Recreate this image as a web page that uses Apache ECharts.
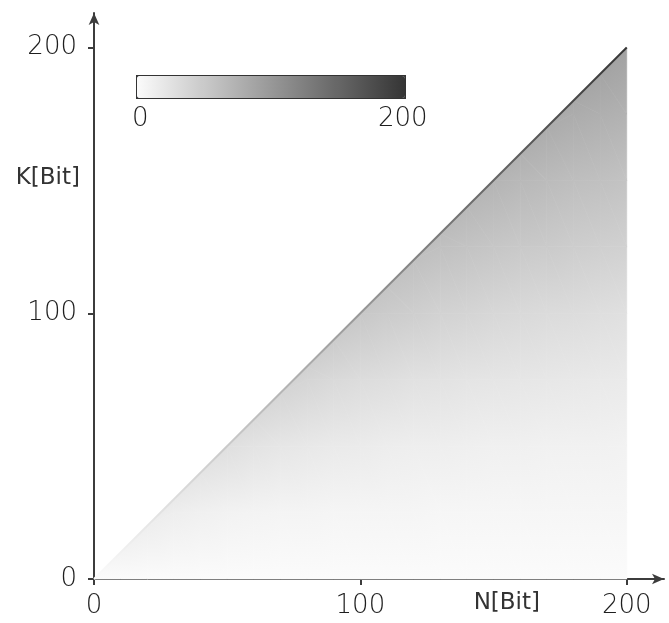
<!DOCTYPE html>
<html>
<head>
<meta charset="utf-8">
<script src="https://cdn.jsdelivr.net/npm/echarts@6/dist/echarts.min.js"></script>
<style>html,body{margin:0;padding:0;background:#fff}#c{width:669px;height:623px}</style>
</head>
<body>
<div id="c"></div>
<script>
// ---- data ----
const xTicks = [0, 100, 200];
const yTicks = [0, 100, 200];
const cbLabels = ['0', '200'];
const cbRange = [0, 200];
// sample lines along N[Bit]
const nLines = [0,10,20,30,40,50,60,70,80,90,100,110,120,130,140,150,160,170,180,190,200];
// K[Bit] levels sampled on each line (only those below the diagonal); the last value of each line is at the diagonal K = N
const kLevels = [0, 25, 50, 75, 100, 125, 150, 175];
const lineValues = [
  [0],
  [0, 8],
  [0, 13],
  [0, 13, 18],
  [0, 11, 23],
  [0, 9, 28],
  [0, 8, 24, 33],
  [0, 7, 21, 38],
  [0, 7, 19, 38, 43],
  [0, 6, 17, 34, 48],
  [0, 6, 16, 31, 53],
  [0, 6, 14, 29, 48, 56],
  [0, 6, 13, 26, 45, 60],
  [0, 5, 13, 25, 41, 60, 64],
  [0, 5, 12, 23, 39, 57, 68],
  [0, 5, 11, 22, 36, 54, 72],
  [0, 5, 11, 21, 34, 51, 68, 76],
  [0, 5, 10, 20, 32, 49, 65, 80],
  [0, 5, 10, 19, 31, 46, 62, 80, 84],
  [0, 5, 10, 18, 29, 44, 60, 77, 88],
  [0, 5, 9, 17, 27, 42, 57, 74, 90]
];
const diagonal = [[0, 0], [200, 200]];

// ---- build mesh (points [N, K, value]) for the library ----
function linePoints(i) {
  const n = nLines[i], vals = lineValues[i], pts = [];
  for (let j = 0; j < vals.length - 1; j++) pts.push([n, kLevels[j], vals[j]]);
  pts.push([n, n, vals[vals.length - 1]]);
  return pts;
}
const triangles = [];
for (let i = 0; i < nLines.length - 1; i++) {
  const L = linePoints(i), R = linePoints(i + 1);
  let a = 0, b = 0;
  while (a < L.length - 1 || b < R.length - 1) {
    if (a < L.length - 1 && (b === R.length - 1 || L[a + 1][1] <= R[b + 1][1])) {
      triangles.push([].concat(L[a], R[b], L[a + 1])); a++;
    } else {
      triangles.push([].concat(L[a], R[b], R[b + 1])); b++;
    }
  }
}

// ---- styling ----
const LIGHT = 251, DARK = 53;
function grayOf(v) {
  const g = Math.round(LIGHT - (v - cbRange[0]) * (LIGHT - DARK) / (cbRange[1] - cbRange[0]));
  return 'rgb(' + g + ',' + g + ',' + g + ')';
}
const FONT = 'DejaVu Sans';
const TXT = '#1e1e1e';
const AX = '#3c3c3c';
const W = 200;

const chart = echarts.init(document.getElementById('c'), null, {renderer: 'canvas'});
chart.setOption({
  animation: false,
  backgroundColor: '#fff',
  grid: {left: 94, right: 5, top: 13, bottom: 44},
  xAxis: {
    type: 'value', min: 0, max: 214, interval: 100,
    name: 'N[Bit]', nameLocation: 'end', nameGap: -124,
    nameTextStyle: {fontFamily: FONT, fontSize: 23, color: '#333', align: 'right', verticalAlign: 'top', padding: [13, 0, 0, 0]},
    axisLine: {onZero: false, lineStyle: {color: AX, width: 2}, symbol: ['none', 'arrow'], symbolSize: [8, 12]},
    axisTick: {customValues: xTicks, length: 6, lineStyle: {color: AX, width: 2}},
    axisLabel: {customValues: xTicks, margin: 14, fontFamily: FONT, fontWeight: W, fontSize: 26, color: TXT},
    splitLine: {show: false}
  },
  yAxis: {
    type: 'value', min: 0, max: 213, interval: 100,
    name: 'K[Bit]', nameLocation: 'end', nameGap: -165,
    nameTextStyle: {fontFamily: FONT, fontSize: 23, color: '#333', align: 'right', verticalAlign: 'middle', padding: [0, 14, 0, 0]},
    axisLine: {onZero: false, lineStyle: {color: AX, width: 2}, symbol: ['none', 'arrow'], symbolSize: [8, 12]},
    axisTick: {customValues: yTicks, length: 6, lineStyle: {color: AX, width: 2}},
    axisLabel: {customValues: yTicks, margin: 17, fontFamily: FONT, fontWeight: W, fontSize: 26, color: TXT},
    splitLine: {show: false}
  },
  visualMap: {
    type: 'continuous', min: cbRange[0], max: cbRange[1], orient: 'horizontal',
    left: 136, top: 75, itemWidth: 22, itemHeight: 268, calculable: false,
    text: null, showLabel: false, padding: 0,
    borderColor: '#333', borderWidth: 2,
    seriesIndex: [1], dimension: 1,
    inRange: {color: ['#fbfbfb', '#353535']}
  },
  graphic: [
    {type: 'text', left: 132, top: 106, style: {text: cbLabels[0], font: '200 26px "DejaVu Sans"', fill: TXT}},
    {type: 'text', left: 378, top: 106, style: {text: cbLabels[1], font: '200 26px "DejaVu Sans"', fill: TXT}}
  ],
  series: [
    {
      type: 'custom',
      data: triangles,
      silent: true,
      renderItem: function (params, api) {
        const P = [], V = [];
        for (let k = 0; k < 3; k++) {
          P.push(api.coord([api.value(3 * k), api.value(3 * k + 1)]));
          V.push(api.value(3 * k + 2));
        }
        const x1 = P[1][0] - P[0][0], y1 = P[1][1] - P[0][1];
        const x2 = P[2][0] - P[0][0], y2 = P[2][1] - P[0][1];
        const d1 = V[1] - V[0], d2 = V[2] - V[0];
        const det = x1 * y2 - x2 * y1;
        let fill;
        const vmin = Math.min(V[0], V[1], V[2]), vmax = Math.max(V[0], V[1], V[2]);
        if (Math.abs(det) < 1e-9 || vmax - vmin < 1e-9) {
          fill = grayOf(V[0]);
        } else {
          const ga = (d1 * y2 - d2 * y1) / det;
          const gb = (x1 * d2 - x2 * d1) / det;
          const g2 = ga * ga + gb * gb;
          const sA = (vmin - V[0]) / g2, sB = (vmax - V[0]) / g2;
          fill = new echarts.graphic.LinearGradient(
            P[0][0] + ga * sA, P[0][1] + gb * sA,
            P[0][0] + ga * sB, P[0][1] + gb * sB,
            [{offset: 0, color: grayOf(vmin)}, {offset: 1, color: grayOf(vmax)}], true);
        }
        return {
          type: 'polygon',
          shape: {points: P},
          style: {fill: fill, stroke: fill, lineWidth: 0.7}
        };
      }
    },
    {
      type: 'line',
      data: diagonal,
      symbol: 'none',
      lineStyle: {width: 2},
      silent: true
    }
  ]
});
</script>
</body>
</html>
